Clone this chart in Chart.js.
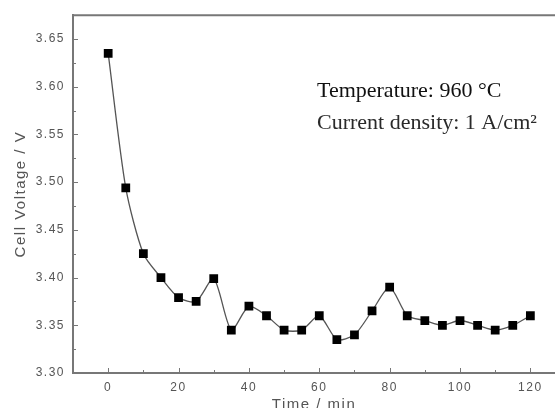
<!DOCTYPE html>
<html>
<head>
<meta charset="utf-8">
<script src="https://cdn.jsdelivr.net/npm/chart.js@4"></script>
<style>
  html, body { margin: 0; padding: 0; background: #fff; overflow: hidden; }
  canvas { display: block; }
</style>
</head>
<body>
<canvas id="grafico" width="555" height="408"></canvas>
<script>
// tiempo (min) y voltaje de celda (V)
const tiempo = [0, 5, 10, 15, 20, 25, 30, 35, 40, 45, 50, 55, 60, 65, 70, 75, 80, 85, 90, 95, 100, 105, 110, 115, 120];
const voltaje = [3.635, 3.494, 3.425, 3.400, 3.379, 3.375, 3.399, 3.345, 3.370, 3.360, 3.345, 3.345, 3.360,
                 3.335, 3.340, 3.365, 3.390, 3.360, 3.355, 3.350, 3.355, 3.350, 3.345, 3.350, 3.360];
const ticksX = [0, 20, 40, 60, 80, 100, 120];
const ticksY = [3.30, 3.35, 3.40, 3.45, 3.50, 3.55, 3.60, 3.65];
const notas = ['Temperature: 960 \u00B0C', 'Current density: 1 A/cm\u00B2'];

const gris = '#777';

// el texto del original es algo más espaciado
const espaciado = {
    id: 'espaciado',
    beforeUpdate(chart) { chart.ctx.letterSpacing = '1.5px'; },
    beforeDraw(chart) { chart.ctx.letterSpacing = '1.5px'; }
};

// marcas hacia dentro, marco superior y texto de condiciones
const marcoPlugin = {
    id: 'marco',
    afterDraw(chart) {
        const ctx = chart.ctx;
        const a = chart.chartArea;
        const sx = chart.scales.x, sy = chart.scales.y;
        ctx.save();
        ctx.strokeStyle = gris;
        ctx.lineWidth = 2;
        ctx.beginPath();
        ctx.moveTo(a.left, a.top);
        ctx.lineTo(a.right, a.top);
        ctx.stroke();

        ctx.lineWidth = 1;
        ctx.beginPath();
        for (let v = -10; v <= 127; v += 10) {
            const x = Math.round(sx.getPixelForValue(v)) + 0.5;
            const largo = v % 20 === 0 ? 5 : 3;
            ctx.moveTo(x, a.bottom);
            ctx.lineTo(x, a.bottom - largo);
        }
        for (let i = 0; i <= 15; i++) {
            const v = 3.30 + i * 0.025;
            const y = Math.round(sy.getPixelForValue(v)) + 0.5;
            const largo = i % 2 === 0 ? 5 : 3;
            ctx.moveTo(a.left, y);
            ctx.lineTo(a.left + largo, y);
        }
        ctx.stroke();

        ctx.letterSpacing = '0px';
        ctx.font = '22px "Liberation Serif", "Times New Roman", serif';
        ctx.textBaseline = 'alphabetic';
        ctx.fillStyle = '#111';
        ctx.fillText(notas[0], 317, 97);
        ctx.fillStyle = '#2a2a2a';
        ctx.fillText(notas[1], 317, 129);
        ctx.restore();
    }
};

const fuente = 'Arial, "Liberation Sans", sans-serif';

const ctx = document.getElementById('grafico').getContext('2d');
new Chart(ctx, {
    type: 'line',
    data: {
        datasets: [{
            data: tiempo.map((t, i) => ({ x: t, y: voltaje[i] })),
            borderColor: '#555',
            borderWidth: 1.3,
            backgroundColor: '#000',
            pointStyle: 'rect',
            pointRadius: 6.2,
            pointBorderWidth: 0,
            tension: 0.25,
            fill: false
        }]
    },
    options: {
        responsive: false,
        animation: false,
        layout: { autoPadding: false, padding: { top: 15, right: 0, left: 0, bottom: 0 } },
        plugins: { legend: { display: false }, tooltip: { enabled: false } },
        scales: {
            x: {
                type: 'linear',
                min: -10,
                max: 127,
                afterBuildTicks: s => { s.ticks = ticksX.map(v => ({ value: v })); },
                afterFit: s => { s.height = 35; s.paddingLeft = 0; s.paddingRight = 0; },
                grid: { display: false, drawTicks: false },
                border: { display: true, color: gris, width: 2 },
                ticks: { color: '#555', font: { family: fuente, size: 12 }, padding: 7, maxRotation: 0 },
                title: { display: true, text: 'Time / min', color: '#555', font: { family: fuente, size: 15 }, padding: { top: 0, bottom: -6 } }
            },
            y: {
                min: 3.30,
                max: 3.675,
                afterBuildTicks: s => { s.ticks = ticksY.map(v => ({ value: v })); },
                afterFit: s => { s.width = 73; },
                grid: { display: false, drawTicks: false },
                border: { display: true, color: gris, width: 2 },
                ticks: { color: '#555', font: { family: fuente, size: 12 }, padding: 8,
                         callback: v => v.toFixed(2) },
                title: { display: true, text: 'Cell Voltage / V', color: '#555', font: { family: fuente, size: 15 }, padding: { top: 12, bottom: 0 } }
            }
        }
    },
    plugins: [espaciado, marcoPlugin]
});
</script>
</body>
</html>
